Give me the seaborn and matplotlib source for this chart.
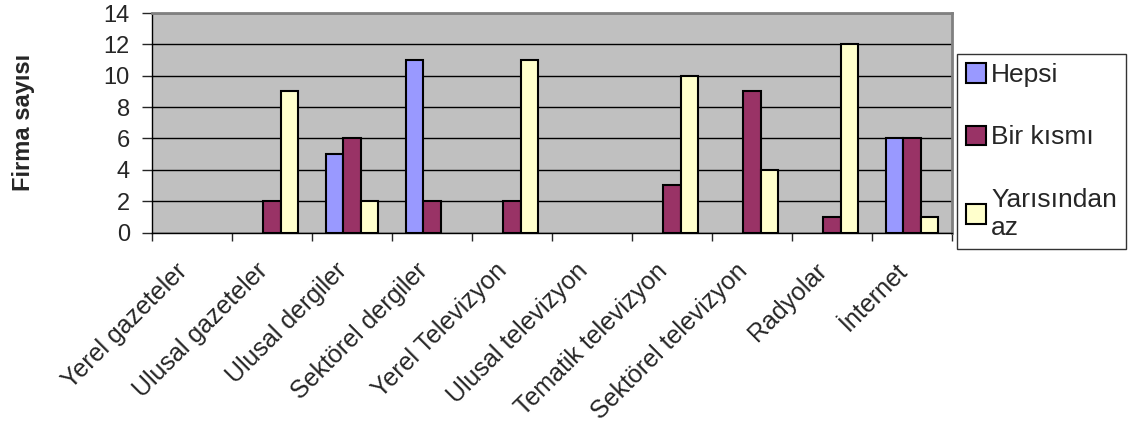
import matplotlib
matplotlib.use("Agg")
from matplotlib import pyplot as plt
from matplotlib.patches import Patch
import pandas as pd
import seaborn as sns

categories = ["Yerel gazeteler", "Ulusal gazeteler", "Ulusal dergiler", "Sektörel dergiler",
              "Yerel Televizyon", "Ulusal televizyon", "Tematik televizyon",
              "Sektörel televizyon", "Radyolar", "İnternet"]
hepsi = [0, 0, 5, 11, 0, 0, 0, 0, 0, 6]
bir_kismi = [0, 2, 6, 2, 2, 0, 3, 9, 1, 6]
yarisindan_az = [0, 9, 2, 0, 11, 0, 10, 4, 12, 1]
series_names = ["Hepsi", "Bir kısmı", "Yarısından\naz"]
colors = ["#9999FF", "#993366", "#FFFFCC"]

rows = []
for name, vals in zip(series_names, [hepsi, bir_kismi, yarisindan_az]):
    for cat, v in zip(categories, vals):
        rows.append({"kategori": cat, "seri": name, "deger": v})
df = pd.DataFrame(rows)

sns.set_style("white")
plt.rcParams["font.family"] = ["Liberation Sans", "DejaVu Sans"]

fig = plt.figure(figsize=(11.31, 4.25), dpi=100)
# çizim alanı: x 152..952, y 13..232 piksel
ax = fig.add_axes([152 / 1131, 1 - 232.5 / 425, 800 / 1131, 219.5 / 425])

sns.barplot(data=df, x="kategori", y="deger", hue="seri", palette=colors,
            order=categories, hue_order=series_names, width=0.66,
            edgecolor="black", linewidth=1.5, saturation=1, legend=False, ax=ax)

# sıfır çubukları gizle
for p in ax.patches:
    if p.get_height() == 0:
        p.set_visible(False)

ax.set_facecolor("#C0C0C0")
ax.set_ylim(0, 14)
ax.set_xlim(-0.5, len(categories) - 0.5)
ax.set_yticks(range(0, 15, 2))
ax.yaxis.grid(True, color="black", linewidth=1)
ax.set_axisbelow(True)
ax.tick_params(axis="y", labelsize=17, length=7, width=1, direction="out", left=True, pad=9)

ax.set_xticks(range(len(categories)))
ax.set_xticklabels(categories, rotation=45, ha="right", va="bottom",
                   rotation_mode="anchor", fontsize=18)
ax.tick_params(axis="x", which="major", length=0, pad=31)
ax.set_xticks([i - 0.5 for i in range(len(categories) + 1)], minor=True)
ax.tick_params(axis="x", which="minor", length=6, width=1, direction="out", bottom=True)

for side in ["top", "right"]:
    ax.spines[side].set_color("#808080")
    ax.spines[side].set_linewidth(2)
for side in ["left", "bottom"]:
    ax.spines[side].set_color("black")
    ax.spines[side].set_linewidth(1)

ax.set_xlabel("")
ax.set_ylabel("Firma sayısı", fontsize=17, fontweight="bold")
ax.yaxis.set_label_coords(-0.146, 0.5)

handles = [Patch(facecolor=c, edgecolor="black", linewidth=1.5) for c in colors]
leg = fig.legend(handles, series_names, loc="upper left", bbox_to_anchor=(957 / 1131, 1 - 54 / 425),
                 fontsize=19, frameon=True, fancybox=False, edgecolor="black",
                 handlelength=0.75, handleheight=0.75, handletextpad=0.2,
                 labelspacing=1.45, borderpad=0.35, borderaxespad=0)
leg.get_frame().set_linewidth(1)

fig.savefig("out.png", dpi=100)
